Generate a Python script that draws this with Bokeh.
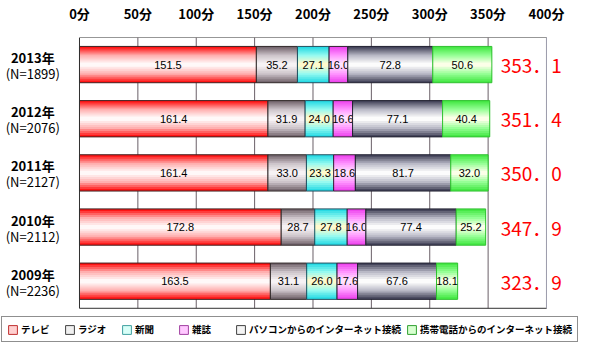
import numpy as np
from bokeh.plotting import figure
from bokeh.models import ColumnDataSource, FixedTicker, Legend, LegendItem
from bokeh.core.properties import value
from bokeh.embed import file_html
from bokeh.resources import INLINE

# ---------------- data ----------------
years = ["2013年", "2012年", "2011年", "2010年", "2009年"]
samples = ["(N=1899)", "(N=2076)", "(N=2127)", "(N=2112)", "(N=2236)"]
series_names = ["テレビ", "ラジオ", "新聞", "雑誌",
                "パソコンからのインターネット接続", "携帯電話からのインターネット接続"]
tv = [151.5, 161.4, 161.4, 172.8, 163.5]
radio = [35.2, 31.9, 33.0, 28.7, 31.1]
newspaper = [27.1, 24.0, 23.3, 27.8, 26.0]
magazine = [16.0, 16.6, 18.6, 16.0, 17.6]
pc_net = [72.8, 77.1, 81.7, 77.4, 67.6]
mobile_net = [50.6, 40.4, 32.0, 25.2, 18.1]
totals = ["353．1", "351．4", "350．0", "347．9", "323．9"]
x_ticks = [0, 50, 100, 150, 200, 250, 300, 350, 400]
x_tick_labels = [f"{t}分" for t in x_ticks]

# ---------------- style ----------------
edge_colors = [(255, 20, 20), (118, 104, 112), (40, 218, 228), (238, 70, 238), (70, 70, 92), (70, 232, 70)]
center_colors = [(255, 248, 248), (246, 242, 244), (255, 250, 205), (255, 228, 255), (252, 252, 252), (252, 255, 232)]
mid_colors = [(255, 175, 175), (205, 196, 202), (150, 250, 240), (255, 150, 255), (185, 185, 198), (150, 255, 150)]
outline_colors = ["#402020", "#302828", "#205060", "#302030", "#202030", "#30c030"]
legend_fill = ["#ffd0d0", "#f0f0f0", "#d8fff8", "#ffc8ff", "#f4f4f4", "#d8ffd0"]
legend_line = ["#c03030", "#404040", "#40a0a0", "#a040a0", "#404040", "#30a030"]
JP = "Noto Sans CJK JP"
BAR_H = 0.67
TOTAL_X = 387
YLABEL_X = -40
X_MIN, X_MAX = 0, 400

series = [tv, radio, newspaper, magazine, pc_net, mobile_net]
arr = np.array(series)
rights = np.cumsum(arr, axis=0)
lefts = rights - arr
n = len(years)
ypos = [n - 1 - i for i in range(n)]          # category slots, top to bottom
y_lo, y_hi = -0.5, n - 0.5                     # edges of the bar area

p = figure(width=584, height=344, y_range=(y_lo - 0.65, y_hi), x_range=(-66.8, 431.7),
           output_backend="svg", toolbar_location=None, x_axis_location="above",
           min_border_left=1, min_border_right=1, min_border_top=29, min_border_bottom=1)
p.background_fill_color = "white"
p.border_fill_color = "white"
p.outline_line_alpha = 0
p.xgrid.grid_line_color = None
p.ygrid.grid_line_color = None

def hexc(c):
    return "#%02x%02x%02x" % tuple(int(round(v)) for v in c)

def lerp(a, b, t):
    return tuple(a[i] + (b[i] - a[i]) * t for i in range(3))

# grid lines and plot-area border
inner = x_ticks[1:-1]
p.segment(x0=inner, x1=inner, y0=[y_lo] * len(inner), y1=[y_hi] * len(inner),
          line_color="#6a6068", line_width=1)

nlayers = 9
for si in range(len(series)):
    src = ColumnDataSource(dict(y=ypos, left=lefts[si].tolist(), right=rights[si].tolist(),
                                mid=((lefts[si] + rights[si]) / 2).tolist(),
                                lab=[f"{v:.1f}" for v in series[si]]))
    for k in range(nlayers):
        t = k / (nlayers - 1)
        h = BAR_H * (1 - 0.88 * t)
        if t < 0.5:
            col = lerp(edge_colors[si], mid_colors[si], t / 0.5)
        else:
            col = lerp(mid_colors[si], center_colors[si], (t - 0.5) / 0.5)
        p.hbar(y="y", left="left", right="right", height=h, source=src,
               fill_color=hexc(col), line_color=None)
    p.hbar(y="y", left="left", right="right", height=BAR_H, source=src,
           fill_color=None, line_color=outline_colors[si], line_width=1)
    p.text(x="mid", y="y", text="lab", source=src, text_align="center",
           text_baseline="middle", text_font=value("Liberation Sans"),
           text_font_size="11px", text_color="#000000")

p.quad(left=[X_MIN], right=[X_MAX], bottom=[y_lo], top=[y_hi], fill_color=None,
       line_color="#303030", line_width=1)
p.segment(x0=[X_MAX], x1=[X_MAX], y0=[y_lo], y1=[y_hi], line_color="#a0a0b0", line_width=1)

# totals
tsrc = ColumnDataSource(dict(y=ypos, t=totals, x=[TOTAL_X] * n))
p.text(x="x", y="y", text="t", source=tsrc, text_align="center", text_baseline="middle",
       text_font=value(JP), text_font_size="19px", text_color="#ff0000")

# year / sample labels
lsrc = ColumnDataSource(dict(y=ypos, yr=years, n=samples, x=[YLABEL_X] * n))
p.text(x="x", y="y", text="yr", source=lsrc, text_align="center", text_baseline="middle",
       y_offset=-7, text_font=value(JP), text_font_style="bold", text_font_size="13px",
       text_color="#000000")
p.text(x="x", y="y", text="n", source=lsrc, text_align="center", text_baseline="middle",
       y_offset=9, text_font=value(JP), text_font_size="13px", text_color="#000000")

# axes
xa = p.xaxis[0]
xa.ticker = FixedTicker(ticks=x_ticks)
xa.major_label_overrides = {t: l for t, l in zip(x_ticks, x_tick_labels)}
xa.axis_line_color = None
xa.major_tick_line_color = None
xa.minor_tick_line_color = None
xa.major_label_standoff = 9
xa.major_label_text_font = JP
xa.major_label_text_font_style = "bold"
xa.major_label_text_font_size = "13px"
xa.major_label_text_color = "#000000"
p.yaxis.visible = False

# legend (swatch renderers carry real data but are hidden), placed inside the frame
items = []
for si, name in enumerate(series_names):
    r = p.hbar(y=[ypos[0]], left=[0], right=[1], height=0.1, fill_color=legend_fill[si],
               line_color=legend_line[si], line_width=1, visible=False)
    items.append(LegendItem(label=name, renderers=[r]))
leg = Legend(items=items, orientation="horizontal", location=(0, 1),
             label_text_font=JP, label_text_font_style="bold", label_text_font_size="9.5px",
             label_text_color="#000000", glyph_width=11, glyph_height=11, label_standoff=3,
             label_width=38, label_height=11, spacing=5, padding=5, margin=0,
             inactive_fill_alpha=0,
             border_line_color="#202020", border_line_width=1,
             background_fill_color="white", background_fill_alpha=1)
p.add_layout(leg)

open("out.html", "w").write(file_html(p, INLINE))
